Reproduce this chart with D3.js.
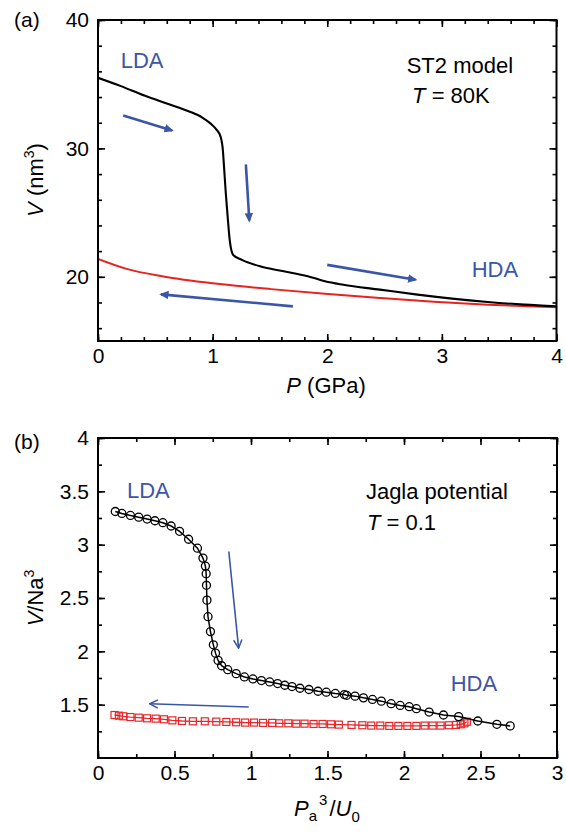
<!DOCTYPE html>
<html><head><meta charset="utf-8">
<script src="https://cdn.jsdelivr.net/npm/d3@7"></script>
<style>
html,body{margin:0;padding:0;background:#fff;}
text{font-family:"Liberation Sans",Arial,Helvetica,sans-serif;}
</style></head>
<body>
<script>
// ---------- Panel (a) data: ST2 model ----------
const aCompressP = [0,0.2,0.41,0.6,0.79,0.91,0.98,1.03,1.07,1.09,1.10,1.115,1.13,1.15,1.18,1.26,1.42,1.61,1.83,1.98,2.14,2.46,2.77,3.09,3.40,3.72,4.0];
const aCompressV = [35.5,34.85,34.1,33.5,32.9,32.4,31.95,31.5,30.9,29.8,28.5,26.5,24.8,22.8,21.7,21.3,20.8,20.45,20.05,19.65,19.38,19.0,18.63,18.3,18.04,17.83,17.7];
const aDecompP = [0,0.25,0.57,1.04,1.51,1.98,2.46,2.93,3.40,4.0];
const aDecompV = [21.4,20.62,20.03,19.46,19.04,18.68,18.35,18.06,17.83,17.62];
const aXTicks = [0,1,2,3,4];
const aYTicks = [20,30,40];
// arrows [x1,y1,x2,y2] in data units
const aArrows = [[0.22,32.56,0.646,31.4],[1.29,28.76,1.32,24.37],[2.0,20.93,2.77,19.77],[1.70,17.7,0.55,18.63]];

// ---------- Panel (b) data: Jagla potential ----------
const bCompressX = [0.113,0.156,0.212,0.266,0.321,0.372,0.424,0.478,0.533,0.592,0.650,0.686,0.702,0.707,0.709,0.712,0.719,0.735,0.754,0.768,0.785,0.808,0.848,0.903,0.957,1.013,1.068,1.122,1.174,1.221,1.268,1.320,1.379,1.438,1.492,1.551,1.610,1.625,1.680,1.735,1.794,1.852,1.916,1.975,2.034,2.081,2.164,2.258,2.357,2.482,2.607,2.694];
const bCompressV = [3.311,3.293,3.274,3.258,3.240,3.224,3.206,3.175,3.125,3.051,2.967,2.874,2.799,2.728,2.619,2.480,2.325,2.185,2.061,1.983,1.915,1.865,1.828,1.791,1.760,1.741,1.726,1.713,1.698,1.682,1.670,1.654,1.642,1.626,1.617,1.605,1.595,1.588,1.580,1.564,1.549,1.533,1.509,1.493,1.481,1.462,1.431,1.403,1.388,1.347,1.316,1.301];
const bDecompX = [2.411,2.395,2.371,2.340,2.293,2.239,2.187,2.135,2.081,2.022,1.963,1.904,1.845,1.786,1.728,1.657,1.574,1.523,1.468,1.409,1.350,1.296,1.244,1.185,1.138,1.079,1.020,0.962,0.903,0.839,0.773,0.698,0.620,0.549,0.486,0.431,0.377,0.321,0.266,0.212,0.165,0.137,0.108];
const bDecompV = [1.340,1.325,1.316,1.310,1.307,1.304,1.304,1.304,1.301,1.301,1.301,1.301,1.304,1.304,1.307,1.310,1.313,1.316,1.319,1.319,1.322,1.322,1.325,1.325,1.329,1.329,1.332,1.332,1.335,1.338,1.341,1.344,1.344,1.347,1.353,1.363,1.369,1.372,1.378,1.384,1.391,1.397,1.403];
const bXTicks = [0,0.5,1,1.5,2,2.5,3];
const bYTicks = [1.5,2,2.5,3,3.5,4];
const bArrows = [[0.855,2.936,0.919,2.03],[0.985,1.478,0.337,1.509]];

const BLUE = "#3c56a6";
const W = 566, H = 837;
const svg = d3.select("body").append("svg").attr("width",W).attr("height",H);
const defs = svg.append("defs");
defs.append("marker").attr("id","headA").attr("viewBox","0 0 10 10").attr("refX",8).attr("refY",5)
  .attr("markerWidth",3.6).attr("markerHeight",3.6).attr("orient","auto").attr("markerUnits","strokeWidth")
  .append("path").attr("d","M0,0.5 L10,5 L0,9.5 Z").attr("fill",BLUE);
defs.append("marker").attr("id","headB").attr("viewBox","0 0 12 12").attr("refX",11).attr("refY",6)
  .attr("markerWidth",10).attr("markerHeight",10).attr("orient","auto").attr("markerUnits","userSpaceOnUse")
  .append("path").attr("d","M1,1 L11,6 L1,11").attr("fill","none").attr("stroke",BLUE).attr("stroke-width",1.8);

function frameAxes(g, x, y, xMajor, xMinor, yMajor, yMinor, xFmt, yFmt){
  const [x0,x1] = x.range(), [y0,y1] = y.range();
  const L=7, S=4;
  const mk = (axis, tr, vals, size, labels, fmt) => {
    const a = axis.tickValues(vals).tickSize(size).tickSizeOuter(0);
    if(labels){ a.tickFormat(fmt).tickPadding(10); } else a.tickFormat("");
    const gg = g.append("g").attr("transform",tr).call(a);
    gg.select(".domain").remove();
    gg.selectAll("line").attr("stroke","#000").attr("stroke-width",1.6);
    gg.selectAll("text").attr("font-size",21).attr("fill","#000").style("font-family","'Liberation Sans',Arial,sans-serif");
    return gg;
  };
  mk(d3.axisBottom(x), `translate(0,${y0})`, xMinor, -S, false);
  mk(d3.axisTop(x), `translate(0,${y1})`, xMinor, -S, false);
  mk(d3.axisLeft(y), `translate(${x0},0)`, yMinor, -S, false);
  mk(d3.axisRight(y), `translate(${x1},0)`, yMinor, -S, false);
  const bx = mk(d3.axisBottom(x), `translate(0,${y0})`, xMajor, -L, true, xFmt);
  bx.selectAll("text").attr("dy","0").attr("y",22);
  mk(d3.axisTop(x), `translate(0,${y1})`, xMajor, -L, false);
  const ly = mk(d3.axisLeft(y), `translate(${x0},0)`, yMajor, -L, true, yFmt);
  ly.selectAll("text").attr("x",-9);
  mk(d3.axisRight(y), `translate(${x1},0)`, yMajor, -L, false);
  g.append("rect").attr("x",x0).attr("y",y1).attr("width",x1-x0).attr("height",y0-y1)
    .attr("fill","none").attr("stroke","#000").attr("stroke-width",2);
}

// ---------------- Panel (a) ----------------
{
  const x = d3.scaleLinear().domain([0,4]).range([98,556.5]);
  const y = d3.scaleLinear().domain([15,40]).range([341,20]);
  const g = svg.append("g");
  defs.append("clipPath").attr("id","clipA").append("rect").attr("x",98).attr("y",20).attr("width",458.5).attr("height",321);
  const line = d3.line().x(d=>x(d[0])).y(d=>y(d[1])).curve(d3.curveMonotoneX);
  const pc = g.append("g").attr("clip-path","url(#clipA)");
  pc.append("path").attr("d",line(aDecompP.map((p,i)=>[p,aDecompV[i]]))).attr("fill","none").attr("stroke","#e8231f").attr("stroke-width",2);
  pc.append("path").attr("d",line(aCompressP.map((p,i)=>[p,aCompressV[i]]))).attr("fill","none").attr("stroke","#000").attr("stroke-width",2.1);
  g.selectAll("line.arr").data(aArrows).join("line").attr("class","arr")
    .attr("x1",d=>x(d[0])).attr("y1",d=>y(d[1])).attr("x2",d=>x(d[2])).attr("y2",d=>y(d[3]))
    .attr("stroke",BLUE).attr("stroke-width",2.6).attr("marker-end","url(#headA)");
  frameAxes(g, x, y, aXTicks, d3.range(0,4.001,0.2).map(v=>+v.toFixed(2)), aYTicks, d3.range(16,40.001,2), d3.format("d"), d3.format("d"));
  g.append("text").attr("x",x(0.198)).attr("y",y(36.3)).attr("font-size",22).attr("fill",BLUE).text("LDA");
  g.append("text").attr("x",x(3.26)).attr("y",y(19.97)).attr("font-size",22).attr("fill",BLUE).text("HDA");
  g.append("text").attr("x",x(2.693)).attr("y",y(35.87)).attr("font-size",22).text("ST2 model");
  const t = g.append("text").attr("x",x(2.74)).attr("y",y(33.54)).attr("font-size",22);
  t.append("tspan").attr("font-style","italic").text("T");
  t.append("tspan").text(" = 80K");
  g.append("text").attr("x",14).attr("y",27).attr("font-size",21).text("(a)");
  const xl = g.append("text").attr("x",326).attr("y",393).attr("text-anchor","middle").attr("font-size",22);
  xl.append("tspan").attr("font-style","italic").text("P");
  xl.append("tspan").text(" (GPa)");
  const yl = g.append("text").attr("transform","translate(43,180) rotate(-90)").attr("text-anchor","middle").attr("font-size",22);
  yl.append("tspan").attr("font-style","italic").text("V");
  yl.append("tspan").text(" (nm");
  yl.append("tspan").attr("font-size",14).attr("dy",-9).text("3");
  yl.append("tspan").attr("dy",9).text(")");
}

// ---------------- Panel (b) ----------------
{
  const x = d3.scaleLinear().domain([0,3]).range([98,557]);
  const y = d3.scaleLinear().domain([1,4]).range([758,438]);
  const g = svg.append("g");
  const line = d3.line().x(d=>x(d[0])).y(d=>y(d[1]));
  const red = "#e8262a";
  const dec = bDecompX.map((p,i)=>[p,bDecompV[i]]);
  const com = bCompressX.map((p,i)=>[p,bCompressV[i]]);
  g.append("path").attr("d",line(dec)).attr("fill","none").attr("stroke",red).attr("stroke-width",1.3);
  g.selectAll("rect.sq").data(dec).join("rect").attr("class","sq")
    .attr("x",d=>x(d[0])-3.5).attr("y",d=>y(d[1])-3.5).attr("width",7).attr("height",7)
    .attr("fill","none").attr("stroke",red).attr("stroke-width",1.2);
  g.append("path").attr("d",line(com)).attr("fill","none").attr("stroke","#000").attr("stroke-width",1.5);
  g.selectAll("circle.pt").data(com).join("circle").attr("class","pt")
    .attr("cx",d=>x(d[0])).attr("cy",d=>y(d[1])).attr("r",4)
    .attr("fill","none").attr("stroke","#000").attr("stroke-width",1.3);
  g.selectAll("line.arr").data(bArrows).join("line").attr("class","arr")
    .attr("x1",d=>x(d[0])).attr("y1",d=>y(d[1])).attr("x2",d=>x(d[2])).attr("y2",d=>y(d[3]))
    .attr("stroke",BLUE).attr("stroke-width",1.6).attr("marker-end","url(#headB)");
  frameAxes(g, x, y, bXTicks, d3.range(0,3.001,0.25), bYTicks, d3.range(1.25,4.001,0.25), d3.format("~g"), d3.format("~g"));
  g.append("text").attr("x",x(0.189)).attr("y",y(3.44)).attr("font-size",22).attr("fill",BLUE).text("LDA");
  g.append("text").attr("x",x(2.305)).attr("y",y(1.626)).attr("font-size",22).attr("fill",BLUE).text("HDA");
  g.append("text").attr("x",x(1.751)).attr("y",y(3.426)).attr("font-size",22).text("Jagla potential");
  const t = g.append("text").attr("x",x(1.758)).attr("y",y(3.137)).attr("font-size",22);
  t.append("tspan").attr("font-style","italic").text("T");
  t.append("tspan").text(" = 0.1");
  g.append("text").attr("x",14).attr("y",449).attr("font-size",21).text("(b)");
  const xl = g.append("text").attr("x",294).attr("y",816).attr("font-size",22);
  xl.append("tspan").attr("font-style","italic").text("P");
  xl.append("tspan").attr("font-size",15).attr("dy",5).text("a");
  xl.append("tspan").attr("font-size",15).attr("dy",-16).attr("dx",2).text("3");
  xl.append("tspan").attr("dy",11).attr("dx",2).text("/");
  xl.append("tspan").attr("font-style","italic").text("U");
  xl.append("tspan").attr("font-size",15).attr("dy",6).text("0");
  const yl = g.append("text").attr("transform","translate(43,598) rotate(-90)").attr("text-anchor","middle").attr("font-size",22);
  yl.append("tspan").attr("font-style","italic").text("V");
  yl.append("tspan").text("/Na");
  yl.append("tspan").attr("font-size",14).attr("dy",-9).text("3");
}
</script>
</body></html>
